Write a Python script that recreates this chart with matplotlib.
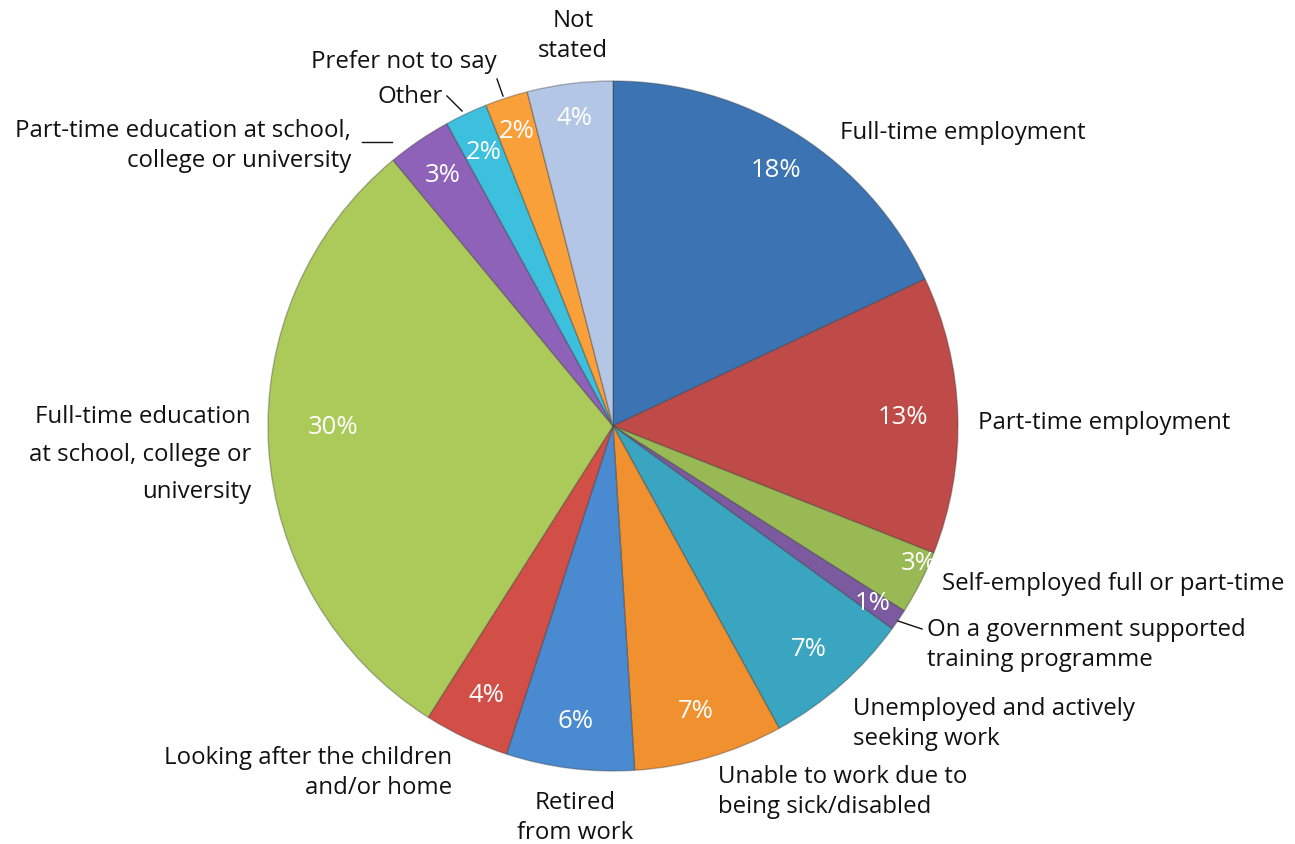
import numpy as np
import matplotlib
matplotlib.use("Agg")
import matplotlib.pyplot as plt

plt.rcParams['font.family'] = ['Open Sans', 'DejaVu Sans']

# share of respondents by economic status (%)
categories = [
    "Full-time employment",
    "Part-time employment",
    "Self-employed full or part-time",
    "On a government supported\ntraining programme",
    "Unemployed and actively\nseeking work",
    "Unable to work due to\nbeing sick/disabled",
    "Retired\nfrom work",
    "Looking after the children\nand/or home",
    "Full-time education\nat school, college or\nuniversity",
    "Part-time education at school,\ncollege or university",
    "Other",
    "Prefer not to say",
    "Not\nstated",
]
shares = [18, 13, 3, 1, 7, 7, 6, 4, 30, 3, 2, 2, 4]

colors = ['#3C74B3', '#BE4B48', '#98B954', '#7B5AA0', '#3AA5C0', '#F0902F',
          '#4A8AD0', '#D24F48', '#ABCA5A', '#8E62B8', '#3CC0DE', '#F9A03A',
          '#B4C6E6']

W, H = 1295, 845
fig = plt.figure(figsize=(W / 100, H / 100), dpi=100)
ax = fig.add_axes([0, 0, 1, 1])

cx, cy, R = 613, 427, 345

# inverted y axis flips the pie, so run counterclockwise with negated start
wedges, _ = ax.pie(shares, colors=colors, startangle=-90, counterclock=True,
                   center=(cx, cy), radius=R, frame=True,
                   wedgeprops=dict(edgecolor=(0.2, 0.2, 0.2, 0.35), linewidth=1.0))
ax.set_xlim(0, W)
ax.set_ylim(H, 0)
ax.axis('off')

# how far out each percentage sits, as a fraction of the radius
pct_r = [0.88, 0.84, 0.97, 0.91, 0.86, 0.86, 0.86, 0.86, 0.81, 0.88, 0.88, 0.9, 0.9]
# small angular nudges (degrees) for a few labels
pct_da = [0, 0, -3, 0, 0, 0, 0, 0, 3.5, 0, 0, 0, 0]
for w, s, fr, da in zip(wedges, shares, pct_r, pct_da):
    mid = np.deg2rad((w.theta1 + w.theta2) / 2 + da)
    x = cx + fr * R * np.cos(mid)
    y = cy + fr * R * np.sin(mid)
    ax.text(x, y, f"{s}%", color='white', fontsize=18.5, ha='center', va='center')

label_pos = [
    (840, 133, 'left', 1.35),
    (978, 423, 'left', 1.35),
    (942, 584, 'left', 1.35),
    (927, 645, 'left', 1.35),
    (853, 724, 'left', 1.35),
    (718, 792, 'left', 1.35),
    (575, 818, 'center', 1.35),
    (452, 773, 'right', 1.35),
    (251, 455, 'right', 1.75),
    (351, 146, 'right', 1.35),
    (443, 97, 'right', 1.35),
    (497, 62, 'right', 1.35),
    (573, 36, 'center', 1.35),
]
for lab, (x, y, ha, ls) in zip(categories, label_pos):
    ax.text(x, y, lab, fontsize=17.3, ha=ha, va='center', color='#111111',
            multialignment=ha, linespacing=ls)

# leader lines for the thin slices
leaders = [
    ((898, 622), (922, 630)),
    ((362, 143), (392, 143)),
    ((447, 97), (462, 112)),
    ((497, 80), (503, 97)),
]
for (x0, y0), (x1, y1) in leaders:
    ax.plot([x0, x1], [y0, y1], color='#111111', linewidth=1.0)

fig.savefig("out.png", dpi=100)
